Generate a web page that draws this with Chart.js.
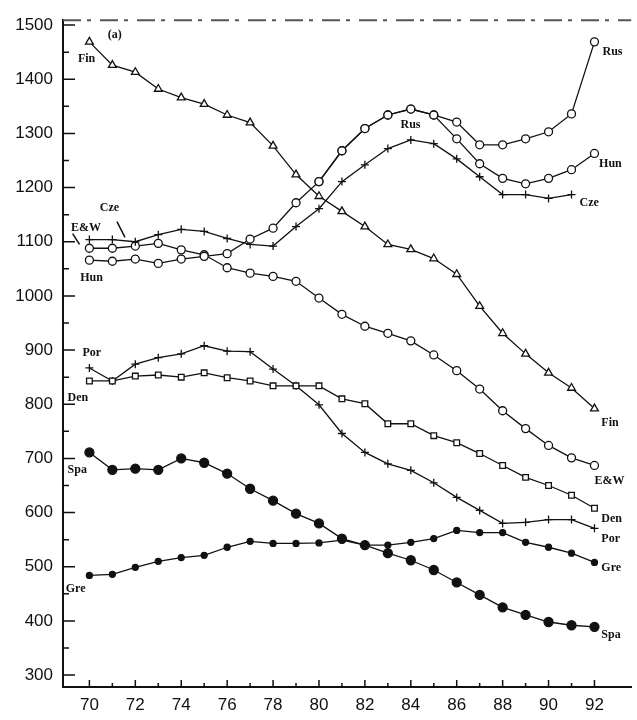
<!DOCTYPE html>
<html>
<head>
<meta charset="utf-8">
<script src="https://cdn.jsdelivr.net/npm/chart.js@4/dist/chart.umd.min.js"></script>
<style>
  html, body { margin: 0; padding: 0; background: #fff; }
  #wrap { width: 637px; height: 720px; }
</style>
</head>
<body>
<div id="wrap"><canvas id="rates"></canvas></div>
<script>
// years 1970..1992
var years = [70,71,72,73,74,75,76,77,78,79,80,81,82,83,84,85,86,87,88,89,90,91,92];
var xTicks = [70,72,74,76,78,80,82,84,86,88,90,92];
var yTicks = [300,400,500,600,700,800,900,1000,1100,1200,1300,1400,1500];

var fin = [1469,1426,1413,1382,1366,1354,1334,1320,1277,1224,1184,1156,1128,1095,1086,1069,1040,981,931,893,858,830,792];
var rus = [null,null,null,null,null,null,null,null,null,null,1211,1268,1309,1334,1345,1334,1321,1279,1279,1290,1303,1336,1469];
var hun = [1066,1064,1068,1060,1068,1073,1078,1105,1125,1172,1211,1268,1309,1334,1345,1334,1290,1244,1217,1207,1217,1233,1263];
var cze = [1104,1104,1100,1113,1123,1119,1106,1095,1092,1128,1161,1211,1242,1272,1288,1281,1253,1220,1187,1187,1180,1187,null];
var ew  = [1088,1088,1092,1097,1085,1076,1052,1042,1036,1027,996,966,944,931,917,891,862,828,788,755,724,701,687];
var den = [843,843,852,854,850,858,849,843,834,834,834,810,801,764,764,742,729,709,687,665,650,632,608];
var por = [867,843,874,886,893,908,898,897,865,834,799,746,711,690,678,655,628,604,580,582,587,587,571];
var spa = [711,679,681,679,700,692,672,644,622,598,580,552,540,525,512,494,471,448,425,411,398,392,389];
var gre = [484,486,499,510,517,521,536,547,543,543,544,549,540,540,545,552,567,563,563,545,536,525,508];

// text labels written on the plot, in data units
var notes = [
    ["(a)", 70.8, 1482], ["Fin", 69.5, 1437], ["Cze", 70.45, 1162], ["E&W", 69.2, 1125],
    ["Hun", 69.6, 1033], ["Por", 69.7, 895], ["Den", 69.05, 812], ["Spa", 69.05, 678],
    ["Gre", 68.97, 460], ["Rus", 92.35, 1450], ["Rus", 83.55, 1316], ["Hun", 92.2, 1244],
    ["Cze", 91.35, 1171], ["Fin", 92.3, 766], ["E&W", 92.0, 659], ["Den", 92.3, 589],
    ["Por", 92.3, 552], ["Gre", 92.3, 497], ["Spa", 92.3, 374]
];
var pointers = [
    [71.2, 1137, 71.55, 1108],
    [69.27, 1115, 69.57, 1095]
];

function pts(arr) {
    var out = [];
    years.forEach(function (yr, i) {
        if (arr[i] !== null) out.push({ x: yr, y: arr[i] });
    });
    return out;
}

function series(name, arr, style, filled, radius) {
    return {
        label: name,
        data: pts(arr),
        borderColor: "#111",
        borderWidth: 1.3,
        backgroundColor: filled ? "#111" : "#fff",
        pointStyle: style,
        pointRadius: radius,
        pointBorderWidth: 1.3,
        pointBorderColor: "#111",
        pointBackgroundColor: filled ? "#111" : "#fff",
        tension: 0,
        fill: false
    };
}

var extras = {
    id: "extras",
    afterDraw: function (chart) {
        var ctx = chart.ctx, xs = chart.scales.x, ys = chart.scales.y, a = chart.chartArea;
        ctx.save();
        // faded top edge
        ctx.strokeStyle = "#555";
        ctx.lineWidth = 2;
        ctx.setLineDash([18, 6, 4, 9]);
        ctx.beginPath();
        ctx.moveTo(a.left, a.top);
        ctx.lineTo(a.right, a.top);
        ctx.stroke();
        ctx.setLineDash([]);
        // inward ticks
        ctx.strokeStyle = "#111";
        ctx.lineWidth = 1.5;
        ctx.beginPath();
        for (var v = 300; v <= 1500; v += 50) {
            var py = ys.getPixelForValue(v);
            ctx.moveTo(a.left, py);
            ctx.lineTo(a.left + (v % 100 === 0 ? 12 : 6), py);
        }
        years.forEach(function (yr) {
            var px = xs.getPixelForValue(yr);
            ctx.moveTo(px, a.bottom);
            ctx.lineTo(px, a.bottom - (yr % 2 === 0 ? 7 : 4));
        });
        pointers.forEach(function (p) {
            ctx.moveTo(xs.getPixelForValue(p[0]), ys.getPixelForValue(p[1]));
            ctx.lineTo(xs.getPixelForValue(p[2]), ys.getPixelForValue(p[3]));
        });
        ctx.stroke();
        // labels
        ctx.fillStyle = "#111";
        ctx.font = "bold 12px 'Liberation Serif'";
        ctx.textAlign = "left";
        ctx.textBaseline = "middle";
        notes.forEach(function (n) {
            ctx.fillText(n[0], xs.getPixelForValue(n[1]), ys.getPixelForValue(n[2]));
        });
        ctx.restore();
    }
};

var tickFont = { family: "'Liberation Sans', Arial", size: 17 };
function plain(v) { return String(v); }

var ctx = document.getElementById("rates");
var myChart = new Chart(ctx, {
    type: "line",
    data: {
        datasets: [
            series("Fin", fin, "triangle", false, 4.5),
            series("Rus", rus, "circle", false, 4),
            series("Hun", hun, "circle", false, 4),
            series("Cze", cze, "cross", false, 4),
            series("E&W", ew, "circle", false, 4),
            series("Den", den, "rect", false, 4),
            series("Por", por, "cross", false, 4),
            series("Spa", spa, "circle", true, 4.5),
            series("Gre", gre, "circle", true, 3)
        ]
    },
    options: {
        responsive: true,
        maintainAspectRatio: false,
        animation: false,
        layout: { padding: { top: 18, right: 0, left: 0, bottom: 0 } },
        plugins: { legend: false, tooltip: { enabled: false } },
        scales: {
            x: {
                type: "linear",
                min: 68.85,
                max: 93.6,
                afterBuildTicks: function (s) { s.ticks = xTicks.map(function (v) { return { value: v }; }); },
                afterFit: function (s) { s.height = 33; },
                grid: { display: false, drawTicks: false },
                border: { display: true, color: "#111", width: 2 },
                ticks: { color: "#111", font: tickFont, padding: 8, autoSkip: false, maxRotation: 0, callback: plain }
            },
            y: {
                min: 278,
                max: 1509,
                afterBuildTicks: function (s) { s.ticks = yTicks.map(function (v) { return { value: v }; }); },
                afterFit: function (s) { s.width = 63; },
                grid: { display: false, drawTicks: false },
                border: { display: true, color: "#111", width: 2 },
                ticks: { color: "#111", font: tickFont, padding: 10, autoSkip: false, callback: plain }
            }
        }
    },
    plugins: [extras]
});
</script>
</body>
</html>
